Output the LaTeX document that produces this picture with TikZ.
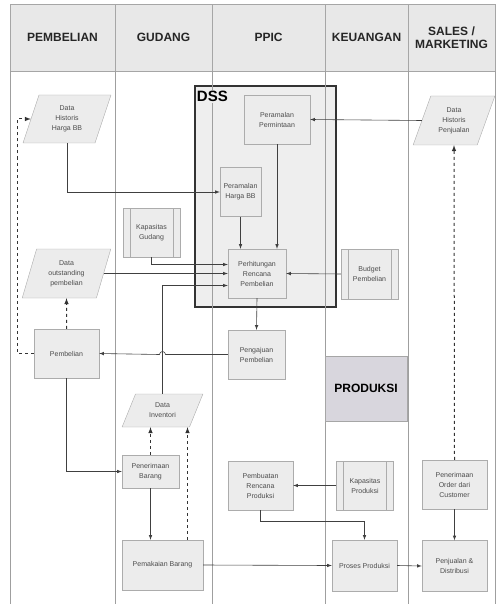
\documentclass[tikz,border=0pt]{standalone}
\usepackage{fontspec}
\setmainfont{Liberation Sans}
\usetikzlibrary{shapes.geometric}

\begin{document}
\begin{tikzpicture}[x=1pt, y=-1pt, >=latex,
    lanehead/.style={draw=gray!70, fill=gray!18, minimum height=67, text=black!85, font=\bfseries\fontsize{12}{13}\selectfont, align=center},
    lane/.style={draw=gray!75, line width=0.6pt},
    proc/.style={draw=gray!65, fill=gray!15, text=black!70, font=\fontsize{7}{10}\selectfont, align=center, inner sep=1pt},
    predef/.style={proc, path picture={
        \draw [gray!65] ([xshift=7pt]path picture bounding box.north west) -- ([xshift=7pt]path picture bounding box.south west);
        \draw [gray!65] ([xshift=-7pt]path picture bounding box.north east) -- ([xshift=-7pt]path picture bounding box.south east);}},
    data/.style={proc, trapezium, trapezium left angle=72, trapezium right angle=108, trapezium stretches=true},
    flow/.style={->, draw=black!75, line width=0.6pt},
    feedback/.style={->, draw=black!80, line width=1pt, dashed}]
    \useasboundingbox (0,0) rectangle (497,604);

    \node (hpembelian) [lanehead, minimum width=105] at (62.5,37.5) {PEMBELIAN};
    \node (hgudang) [lanehead, minimum width=97] at (163.5,37.5) {GUDANG};
    \node (hppic) [lanehead, minimum width=113] at (268.5,37.5) {PPIC};
    \node (hkeuangan) [lanehead, minimum width=83] at (366.5,37.5) {KEUANGAN};
    \node (hsales) [lanehead, minimum width=87] at (451.5,37.5) {SALES /\\MARKETING};

    \node (dss) [draw=black!80, line width=2.5pt, fill=gray!13, minimum width=141, minimum height=221] at (265.5,196.5) {};

    \draw [lane] (hpembelian.south west) -- ++(0,533);
    \draw [lane] (hgudang.south west) -- ++(0,533);
    \draw [lane] (hppic.south west) -- ++(0,533);
    \draw [lane] (hkeuangan.south west) -- ++(0,533);
    \draw [lane] (hsales.south west) -- ++(0,533);
    \draw [lane] (hsales.south east) -- ++(0,533);

    \node (dsslabel) [anchor=north west, inner sep=1pt, fill=gray!13, font=\bfseries\fontsize{15}{15}\selectfont] at ([xshift=2pt,yshift=-5pt]dss.north west) {DSS};
    \node (produksi) [draw=gray!70, fill={rgb,255:red,216;green,214;blue,221}, minimum width=82, minimum height=65, font=\bfseries\fontsize{12}{13}\selectfont] at (366,388.5) {PRODUKSI};

    \node (ppermintaan) [proc, minimum width=66, minimum height=49] at (277,119.5) {Peramalan\\Permintaan};
    \node (pharga) [proc, minimum width=41, minimum height=49] at (240.5,192) {Peramalan\\Harga BB};
    \node (perhitungan) [proc, minimum width=58, minimum height=49] at (257,273.5) {Perhitungan\\Rencana\\Pembelian};
    \node (budget) [predef, minimum width=57, minimum height=50] at (369.5,274) {Budget\\Pembelian};
    \node (kapgudang) [predef, minimum width=57, minimum height=49] at (151.5,232.5) {Kapasitas\\Gudang};
    \node (dhh) [data, minimum width=88, minimum height=48] at (67,119) {Data\\Historis\\Harga BB};
    \node (dataout) [data, minimum width=89, minimum height=49] at (66.5,273.5) {Data\\outstanding\\pembelian};
    \node (pembelian) [proc, minimum width=65, minimum height=49] at (66.5,353.5) {Pembelian};
    \node (pengajuan) [proc, minimum width=57, minimum height=49] at (256.5,354.5) {Pengajuan\\Pembelian};
    \node (datainv) [data, trapezium left angle=67, trapezium right angle=113, minimum width=81, minimum height=33] at (162.5,410.5) {Data\\Inventori};
    \node (penerimaan) [proc, minimum width=57, minimum height=33] at (150.5,471.5) {Penerimaan\\Barang};
    \node (pemakaian) [proc, minimum width=81, minimum height=50] at (162.5,565) {Pemakaian Barang};
    \node (pembuatan) [proc, minimum width=65, minimum height=49] at (260.5,485.5) {Pembuatan\\Rencana\\Produksi};
    \node (kapprod) [predef, minimum width=57, minimum height=49] at (365,485.5) {Kapasitas\\Produksi};
    \node (proses) [proc, minimum width=65, minimum height=51] at (364.5,565.5) {Proses Produksi};
    \node (order) [proc, minimum width=65, minimum height=49] at (454.5,484.5) {Penerimaan\\Order dari\\Customer};
    \node (penjualan) [proc, minimum width=65, minimum height=51] at (454.5,566) {Penjualan \&\\Distribusi};
    \node (dhp) [data, trapezium left angle=66, trapezium right angle=114, minimum width=82, minimum height=49] at (454,120.5) {Data\\Historis\\Penjualan};

    \draw [flow] (dhp.west) -- (ppermintaan.east);
    \draw [flow] (ppermintaan.south) -- (ppermintaan.south |- perhitungan.north);
    \draw [flow] (pharga.south) -- (pharga.south |- perhitungan.north);
    \draw [flow] (dhh.south) |- (pharga.west);
    \draw [flow] (kapgudang.south) |- ([yshift=9pt]perhitungan.west);
    \draw [flow] (dataout.east) -- (dataout.east -| perhitungan.west);
    \draw [flow] (datainv.north) |- ([yshift=-12pt]perhitungan.west);
    \draw [flow] (budget.west) -- (perhitungan.east);
    \draw [flow] (perhitungan.south) -- (pengajuan.north);
    \draw [flow] (pengajuan.west) -- ([xshift=3pt]datainv.north |- pengajuan.west) arc (0:180:3pt) -- (pembelian.east);
    \draw [flow] (pembelian.south) |- (penerimaan.west);
    \draw [flow] (penerimaan.south) -- (penerimaan.south |- pemakaian.north);
    \draw [flow] (pemakaian.east) -- (proses.west);
    \draw [flow] (kapprod.west) -- (pembuatan.east);
    \draw [flow] (pembuatan.south) -- ++(0,11) -| (proses.north);
    \draw [flow] (proses.east) -- (penjualan.west);
    \draw [flow] (order.south) -- (penjualan.north);

    \draw [feedback] (pembelian.west) -- ++(-16,0) |- (dhh.west);
    \draw [feedback] (pembelian.north) -- (dataout.south);
    \draw [feedback] (penerimaan.north) -- (penerimaan.north |- datainv.south);
    \draw [feedback] ([xshift=25pt]pemakaian.north) -- ([xshift=25pt]pemakaian.north |- datainv.south);
    \draw [feedback] (order.north) -- (dhp.south);
\end{tikzpicture}
\end{document}
